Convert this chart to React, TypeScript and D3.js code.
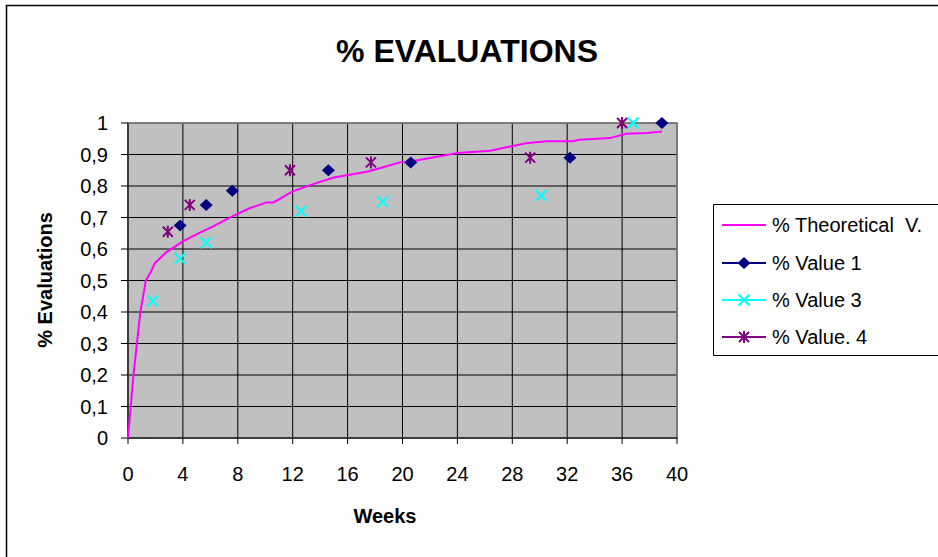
import React from "react";
import * as d3 from "d3";

const theoWeeks = [0, 0.4, 0.9, 1.3, 1.7, 1.95, 2.8, 4.0, 5.2, 6.2, 7.7, 8.9, 10.1, 10.6, 12.0, 13.75, 15.0, 17.4, 18.4, 19.8, 20.6, 24.0, 26.4, 29.0, 30.5, 32.4, 32.9, 35.1, 36.3, 37.8, 38.9];
const theoValues = [0, 0.2, 0.4, 0.5, 0.53, 0.555, 0.59, 0.624, 0.651, 0.672, 0.706, 0.73, 0.748, 0.748, 0.783, 0.81, 0.827, 0.845, 0.857, 0.875, 0.878, 0.905, 0.912, 0.936, 0.942, 0.942, 0.947, 0.952, 0.966, 0.968, 0.973];

const v1Weeks = [3.8, 5.7, 7.6, 14.6, 20.6, 32.2, 38.9];
const v1Values = [0.675, 0.74, 0.785, 0.85, 0.875, 0.89, 1.0];

const v3Weeks = [1.8, 3.8, 5.7, 12.6, 18.55, 30.1, 36.8];
const v3Values = [0.435, 0.57, 0.62, 0.72, 0.75, 0.77, 1.0];

const v4Weeks = [2.9, 4.5, 11.8, 17.7, 29.3, 36.0];
const v4Values = [0.655, 0.74, 0.85, 0.875, 0.89, 1.0];

const xTicks = [0, 4, 8, 12, 16, 20, 24, 28, 32, 36, 40];
const yTicks = [0, 0.1, 0.2, 0.3, 0.4, 0.5, 0.6, 0.7, 0.8, 0.9, 1];

const legendLabels = ["% Theoretical  V.", "% Value 1", "% Value 3", "% Value. 4"];

const C_THEO = "#FF00FF";
const C_V1 = "#000080";
const C_V3 = "#00FFFF";
const C_V4 = "#800080";
const FONT = "Liberation Sans, Arial, sans-serif";

const Diamond = ({ x, y, c }: { x: number; y: number; c: string }) => (
  <path d={`M${x},${y - 6} L${x + 6.5},${y} L${x},${y + 6} L${x - 6.5},${y} Z`} fill={c} />
);
const Cross = ({ x, y, c }: { x: number; y: number; c: string }) => (
  <path d={`M${x - 5.5},${y - 5.5} L${x + 5.5},${y + 5.5} M${x - 5.5},${y + 5.5} L${x + 5.5},${y - 5.5}`} stroke={c} strokeWidth={2} fill="none" />
);
const Star = ({ x, y, c }: { x: number; y: number; c: string }) => (
  <path d={`M${x - 5},${y - 5} L${x + 5},${y + 5} M${x - 5},${y + 5} L${x + 5},${y - 5} M${x},${y - 6} L${x},${y + 6}`} stroke={c} strokeWidth={2} fill="none" />
);

export default function App() {
  const W = 938, H = 557;
  const left = 128, right = 677, top = 123, bottom = 438;
  const x = d3.scaleLinear().domain([0, 40]).range([left, right]);
  const y = d3.scaleLinear().domain([0, 1]).range([bottom, top]);
  const line = d3.line<number>().x((_, i) => x(theoWeeks[i])).y((d) => y(d));
  const fmt = (v: number) => (v === 0 || v === 1 ? String(v) : v.toFixed(1).replace(".", ","));
  const legendY = [225, 263, 300, 337];

  return (
    <svg width={W} height={H} style={{ position: "absolute", left: 0, top: 0, background: "#fff" }} fontFamily={FONT}>
      <rect x={0} y={0} width={W} height={H} fill="#fff" />
      <path d={`M6.5,${H} L6.5,5.5 L${W},5.5`} stroke="#000" strokeWidth={1.5} fill="none" />
      <text x={467} y={62} textAnchor="middle" fontSize={32} fontWeight="bold">% EVALUATIONS</text>

      <rect x={left} y={top} width={right - left} height={bottom - top} fill="#C0C0C0" />
      {yTicks.map((t) => (
        <line key={"gy" + t} x1={left} x2={right} y1={y(t)} y2={y(t)} stroke="#000" strokeWidth={1} />
      ))}
      {xTicks.map((t) => (
        <line key={"gx" + t} x1={x(t)} x2={x(t)} y1={top} y2={bottom} stroke="#000" strokeWidth={1} />
      ))}
      <rect x={left} y={top} width={right - left} height={bottom - top} fill="none" stroke="#808080" strokeWidth={1.5} />
      <line x1={left} x2={left} y1={top} y2={bottom} stroke="#000" strokeWidth={1} />
      <line x1={left} x2={right} y1={bottom} y2={bottom} stroke="#000" strokeWidth={1} />

      {yTicks.map((t) => (
        <g key={"ty" + t}>
          <line x1={left - 7} x2={left} y1={y(t)} y2={y(t)} stroke="#000" />
          <text x={108} y={y(t) + 7} textAnchor="end" fontSize={20}>{fmt(t)}</text>
        </g>
      ))}
      {xTicks.map((t) => (
        <g key={"tx" + t}>
          <line x1={x(t)} x2={x(t)} y1={bottom} y2={bottom + 6} stroke="#000" />
          <text x={x(t)} y={481} textAnchor="middle" fontSize={20}>{t}</text>
        </g>
      ))}

      <path d={line(theoValues) || ""} fill="none" stroke={C_THEO} strokeWidth={2} />
      {v1Weeks.map((w, i) => <Diamond key={"d" + i} x={x(w)} y={y(v1Values[i])} c={C_V1} />)}
      {v3Weeks.map((w, i) => <Cross key={"c" + i} x={x(w)} y={y(v3Values[i])} c={C_V3} />)}
      {v4Weeks.map((w, i) => <Star key={"s" + i} x={x(w)} y={y(v4Values[i])} c={C_V4} />)}

      <text x={385} y={523} textAnchor="middle" fontSize={20} fontWeight="bold">Weeks</text>
      <text transform="translate(52,280) rotate(-90)" textAnchor="middle" fontSize={20} fontWeight="bold">% Evaluations</text>

      <path d={`M${W},204.5 L713.5,204.5 L713.5,355.5 L${W},355.5`} fill="#fff" stroke="#000" strokeWidth={1} />
      {legendLabels.map((lab, i) => {
        const ly = legendY[i];
        const c = [C_THEO, C_V1, C_V3, C_V4][i];
        return (
          <g key={"l" + i}>
            <line x1={722} x2={766} y1={ly} y2={ly} stroke={c} strokeWidth={2} />
            {i === 1 && <Diamond x={744} y={ly} c={c} />}
            {i === 2 && <Cross x={744} y={ly} c={c} />}
            {i === 3 && <Star x={744} y={ly} c={c} />}
            <text x={772} y={ly + 7} fontSize={20} style={{ whiteSpace: "pre" }}>{lab}</text>
          </g>
        );
      })}
    </svg>
  );
}
